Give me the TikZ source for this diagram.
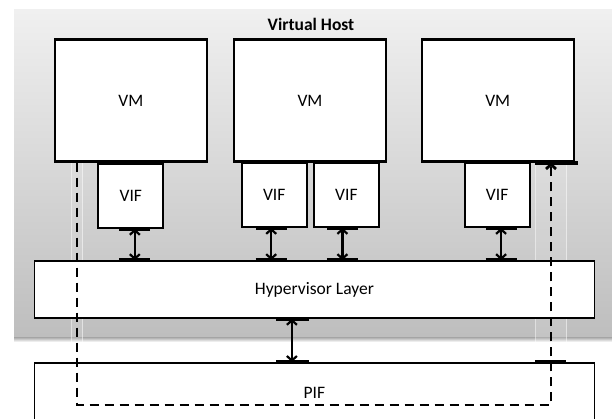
\documentclass[tikz,border=0pt]{standalone}
\usepackage{fontspec}
\setmainfont{Carlito}
\usetikzlibrary{arrows.meta,calc,positioning}
\definecolor{hosttop}{HTML}{F0F0F0}
\definecolor{hostbot}{HTML}{BEBEBE}
\definecolor{shade}{HTML}{DDDDDD}

\begin{document}
\begin{tikzpicture}[x=1pt,y=-1pt,>={Straight Barb[length=4.5pt,width=10pt]},
    box/.style={draw,fill=white,line width=2.2pt,inner sep=0pt,font=\fontsize{17.5}{19}\selectfont},
    vmbox/.style={box,minimum width=152pt,minimum height=122pt},
    vifbox/.style={box,minimum width=65pt,minimum height=64pt},
    layer/.style={draw,fill=white,line width=1.7pt,minimum width=560pt,minimum height=57pt,inner sep=0pt,font=\fontsize{17.5}{19}\selectfont},
    port/.style={line width=4pt},
    link/.style={<->,line width=2.2pt}]
  \useasboundingbox (0,0) rectangle (612,419);
  % virtual host background
  \fill[shade] (14,335) rectangle (612,342);
  \shade[top color=hosttop,bottom color=hostbot] (14,10) rectangle (612,336);
  \fill[white,opacity=0.1] (71.5,162) rectangle (82.5,342);
  \fill[white,opacity=0.1] (535.5,162) rectangle (566.5,342);
  \draw[white,opacity=0.5,line width=0.6pt] (71.5,162) -- (71.5,342) (82.5,162) -- (82.5,342)
    (535.5,162) -- (535.5,342) (566.5,162) -- (566.5,342);
  \node[font=\bfseries\fontsize{17.5}{19}\selectfont] (host) at (311,24) {Virtual Host};

  \node[vmbox] (vm1) at (130.8,100.5) {VM};
  \node[vmbox] (vm2) at (310,100.5) {VM};
  \node[vmbox] (vm3) at (497.7,100.5) {VM};

  \node[vifbox,anchor=north] (vif1) at (vm1.south) {VIF};
  \node[vifbox,anchor=north] (vif2) at (274.2,161.7) {VIF};
  \node[vifbox,anchor=north] (vif3) at (346.4,161.7) {VIF};
  \node[vifbox,anchor=north] (vif4) at (497.1,161.7) {VIF};

  \node[layer] (hyp) at (314.4,289.5) {Hypervisor Layer};
  \node[layer,minimum height=70pt,anchor=north,text depth=10pt] (pif) at (314.4,362) {PIF};

  % vif <-> hypervisor
  \foreach \v/\dx in {vif1/4,vif2/-3,vif3/-4,vif4/4}{
    \draw[port] ($(\v.south)+(\dx-15.5,0)$) -- ($(\v.south)+(\dx+15.5,0)$);
    \draw[port] ($(\v.south |- hyp.north)+(\dx-15.5,0)$) -- ($(\v.south |- hyp.north)+(\dx+15.5,0)$);
    \draw[link] ($(\v.south)+(\dx,0)$) -- ($(\v.south |- hyp.north)+(\dx,0)$);
  }
  % hypervisor <-> pif
  \draw[port] ($(hyp.south)+(-38,0)$) -- ($(hyp.south)+(-5,0)$);
  \draw[port] ($(pif.north)+(-38,0)$) -- ($(pif.north)+(-5,0)$);
  \draw[link] ($(hyp.south)+(-22.5,0)$) -- ($(pif.north)+(-22.5,0)$);

  % direct path through pif
  \coordinate (lft) at (77,0);
  \coordinate (rgt) at (551,405);
  \coordinate (pa) at (535,0);
  \coordinate (pb) at (578,0);
  \coordinate (pc) at (566,0);
  \draw[port] (vm3.south -| pa) -- (vm3.south -| pb);
  \draw[port] (pif.north -| pa) -- (pif.north -| pc);
  \draw[->,line width=2.8pt,dash pattern=on 9pt off 6pt] (vm1.south -| lft) |- (rgt) -- (vm3.south -| rgt);
\end{tikzpicture}
\end{document}
